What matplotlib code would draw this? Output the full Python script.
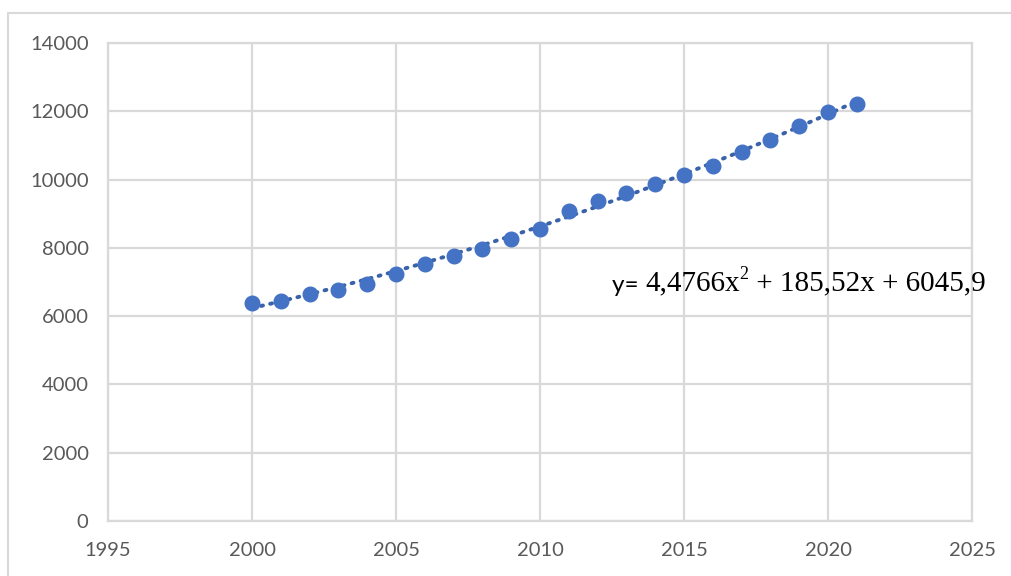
import numpy as np
import matplotlib.pyplot as plt
from matplotlib.patches import Rectangle

# yearly values
years = [2000, 2001, 2002, 2003, 2004, 2005, 2006, 2007, 2008, 2009, 2010,
         2011, 2012, 2013, 2014, 2015, 2016, 2017, 2018, 2019, 2020, 2021]
values = [6380, 6450, 6650, 6770, 6940, 7240, 7540, 7770, 7960, 8250, 8550,
          9080, 9370, 9610, 9880, 10130, 10400, 10820, 11160, 11560, 11980, 12210]

# quadratic trend, x counted from 1 at the first year
trend_coef = [4.4766, 185.52, 6045.9]
trend_parts = ["4,4766x", "2", " + 185,52x + 6045,9"]

x_ticks = [1995, 2000, 2005, 2010, 2015, 2020, 2025]
y_ticks = [0, 2000, 4000, 6000, 8000, 10000, 12000, 14000]

blue = "#4472C4"
grid = "#d9d9d9"
label_col = "#595959"

fig = plt.figure(figsize=(10.11, 5.76), dpi=100)
fig.patches.append(Rectangle((8 / 1011, -0.1), 1.2, 1.1 - 13 / 576,
                             transform=fig.transFigure, fill=False,
                             edgecolor=grid, linewidth=1.5))
ax = fig.add_axes([108 / 1011, 1 - 521 / 576, (972 - 108) / 1011, (521 - 43) / 576])

idx = np.arange(1, len(years) + 1)
trend = np.polyval(trend_coef, idx)
ax.plot(years, trend, linestyle=(0, (0.5, 1.9)), dash_capstyle='round',
        color="#3a62a8", linewidth=2.8, zorder=3)
ax.plot(years, values, 'o', color=blue, markersize=10.5, zorder=4)

ax.set_xlim(1995, 2025)
ax.set_ylim(0, 14000)
ax.set_xticks(x_ticks)
ax.set_yticks(y_ticks)
ax.grid(True, color=grid, linewidth=1.6)
ax.set_axisbelow(True)
for s in ax.spines.values():
    s.set_color(grid)
    s.set_linewidth(1.6)
ax.tick_params(length=0, labelsize=14.5, labelcolor=label_col)
ax.tick_params(axis='x', pad=15)
ax.tick_params(axis='y', pad=14)
for lab in ax.get_xticklabels() + ax.get_yticklabels():
    lab.set_fontfamily('Lato')

# trend equation: sans "y=" followed by serif terms with a raised exponent
t = ax.text(2012.5, 6700, "y= ", fontfamily='Lato', fontsize=17.5,
            va='baseline', ha='left', color='black')
t = ax.annotate(trend_parts[0], xy=(1, 0), xycoords=t, fontsize=21,
                fontfamily='Liberation Serif', va='bottom', ha='left',
                annotation_clip=False)
ax.annotate(trend_parts[1], xy=(1, 0.5), xycoords=t, fontsize=13,
            fontfamily='Liberation Serif', va='bottom', ha='left',
            annotation_clip=False)
ax.annotate(trend_parts[2], xy=(1, 0), xycoords=t, xytext=(7, 0),
            textcoords='offset points', fontsize=21,
            fontfamily='Liberation Serif', va='bottom', ha='left',
            annotation_clip=False)

fig.savefig("out.png", dpi=100, facecolor='white')
